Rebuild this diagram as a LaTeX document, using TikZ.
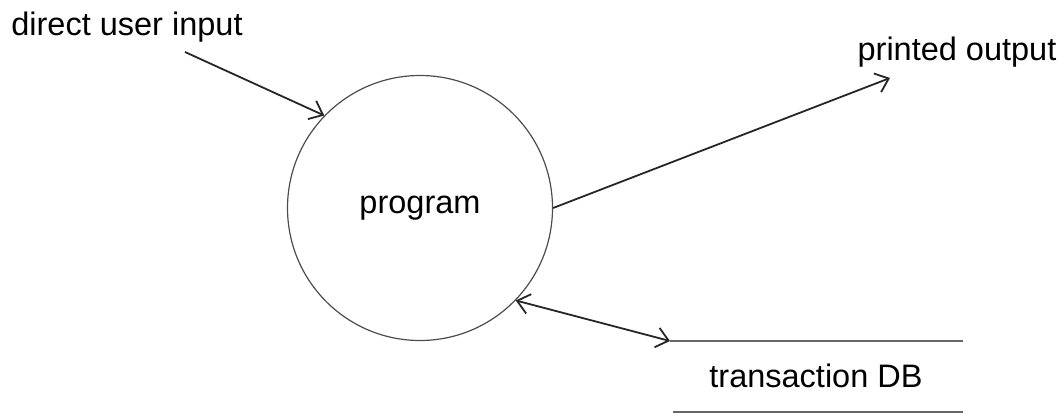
\documentclass[tikz,border=0pt]{standalone}
\usepackage{fontspec}
\setmainfont{Liberation Sans}
\usetikzlibrary{arrows.meta}
\begin{document}
\begin{tikzpicture}[x=1pt,y=-1pt,
  lbl/.style={inner sep=0pt,font=\fontsize{32.5}{36}\selectfont},
  conn/.style={line width=1.8pt,black!85,-{Straight Barb[length=12pt,width=20pt,line width=1.8pt]}},
  dconn/.style={line width=1.8pt,black!85,{Straight Barb[length=12pt,width=20pt,line width=1.8pt]}-{Straight Barb[length=12pt,width=20pt,line width=1.8pt]}},
  proc/.style={circle,draw=black!70,line width=1.2pt,minimum size=265pt,inner sep=0pt},
  store/.style={line width=1.5pt,black!60}]
\useasboundingbox (0,0) rectangle (1063,415);
\node[proc,lbl] (prog) at (420,208) {program};
\node[lbl,anchor=base] (dui) at (127,35) {direct user input};
\node[lbl,anchor=base] (po) at (957,60) {printed output};
\node[lbl,anchor=base] (tdb) at (816,387) {transaction DB};
\coordinate (duiS) at (185,52);
\coordinate (poE) at (890,78);
\coordinate (dbL) at (670,341);
\coordinate (dbR) at (963,341);
\coordinate (dbBL) at (673,412);
\coordinate (dbBR) at (963,412);
\draw[conn] (duiS) -- (prog.{136});
\draw[conn] (prog.east) -- (poE);
\draw[dconn] (prog.{-44}) -- (dbL);
\draw[store] (dbL) -- (dbR);
\draw[store] (dbBL) -- (dbBR);
\end{tikzpicture}
\end{document}
